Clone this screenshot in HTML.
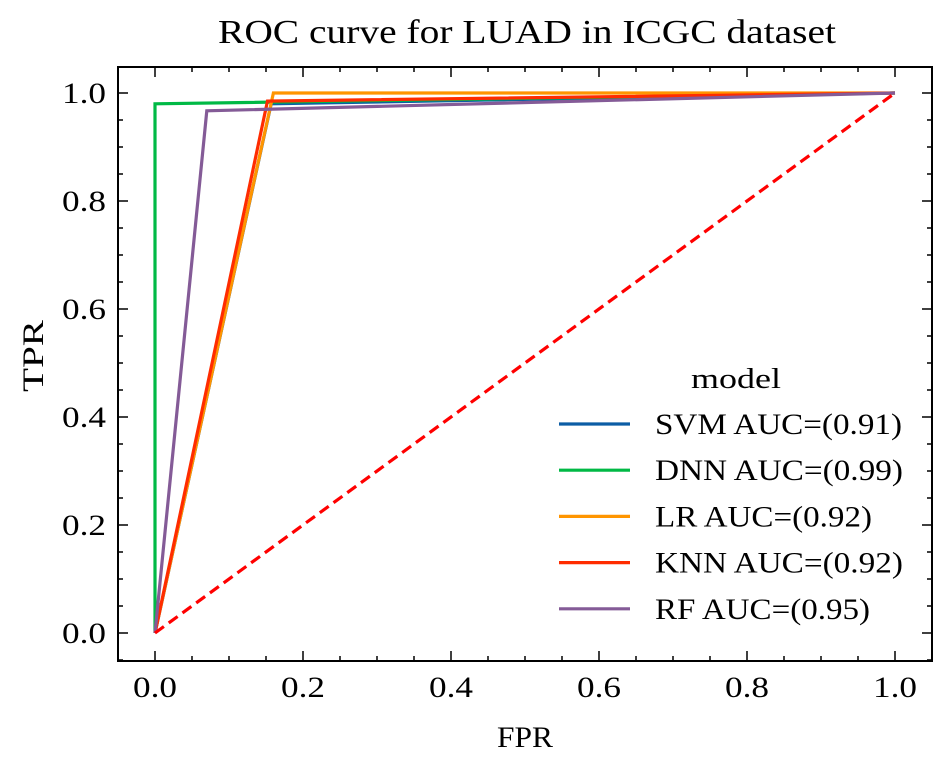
<!DOCTYPE html>
<html><head><meta charset="utf-8"><style>
body{margin:0;background:#fff;}
svg text{font-family:"Liberation Serif",serif;fill:#000;}
</style></head><body>
<svg id="chart" width="947" height="767" xmlns="http://www.w3.org/2000/svg">
<text x="527" y="43" font-size="34" text-anchor="middle" textLength="618" lengthAdjust="spacingAndGlyphs">ROC curve for LUAD in ICGC dataset</text>
<text x="525" y="747" font-size="30" text-anchor="middle" textLength="56" lengthAdjust="spacingAndGlyphs">FPR</text>
<text x="43" y="356" font-size="30" text-anchor="middle" textLength="72" lengthAdjust="spacingAndGlyphs" transform="rotate(-90 43 356)">TPR</text>
<g id="ticks"></g>
<g id="series"></g>
<rect x="118" y="67" width="814" height="594" fill="none" stroke="#000" stroke-width="2"/>
<g id="legend">
<text x="736" y="388" font-size="29" text-anchor="middle" textLength="90" lengthAdjust="spacingAndGlyphs">model</text>
</g>
</svg>
<script>
const models = ["SVM AUC=(0.91)","DNN AUC=(0.99)","LR AUC=(0.92)","KNN AUC=(0.92)","RF AUC=(0.95)"];
const colors = ["#0C5DA5","#00B945","#FF9500","#FF2C00","#845B97"];
const fprSVM = [0,0.157,1], tprSVM = [0,0.98,1];
const fprDNN = [0,0,1], tprDNN = [0,0.98,1];
const fprLR = [0,0.16,1], tprLR = [0,1.0,1];
const fprKNN = [0,0.152,1], tprKNN = [0,0.985,1];
const fprRF = [0,0.07,1], tprRF = [0,0.967,1];
const majorTicks = [0,0.2,0.4,0.6,0.8,1.0];
const tickLabels = ["0.0","0.2","0.4","0.6","0.8","1.0"];
const legendWidths = [247,248,217,248,215];

const NS="http://www.w3.org/2000/svg";
const X=v=>155+v*740, Y=v=>633-v*540;
function mk(t,a,p){const e=document.createElementNS(NS,t);for(const k in a)e.setAttribute(k,a[k]);p.appendChild(e);return e;}
const tg=document.getElementById('ticks');
for(let k=-1;k<=21;k++){
  const v=k*0.05; const maj=k%4===0&&k>=0&&k<=20;
  const len=maj?10:5;
  const xv=X(v); if(xv>118&&xv<932){
    let l=mk('line',{x1:xv,x2:xv,y1:661,y2:661-len,stroke:'#000','stroke-width':1.5},tg);
    
    l=mk('line',{x1:xv,x2:xv,y1:67,y2:67+len,stroke:'#000','stroke-width':1.5},tg);
    
  }
  const yv=Y(v); if(yv>67&&yv<661){
    let l=mk('line',{x1:118,x2:118+len,y1:yv,y2:yv,stroke:'#000','stroke-width':1.5},tg);
    
    l=mk('line',{x1:932,x2:932-len,y1:yv,y2:yv,stroke:'#000','stroke-width':1.5},tg);
    
  }
}
majorTicks.forEach((v,i)=>{
  let t=mk('text',{x:X(v),y:697,'font-size':30,'text-anchor':'middle',textLength:44,lengthAdjust:'spacingAndGlyphs'},tg);t.textContent=tickLabels[i];
  
  t=mk('text',{x:106,y:Y(v)+10,'font-size':30,'text-anchor':'end',textLength:44,lengthAdjust:'spacingAndGlyphs'},tg);t.textContent=tickLabels[i];
  
});
const sg=document.getElementById('series');
const data=[[fprSVM,tprSVM],[fprDNN,tprDNN],[fprLR,tprLR],[fprKNN,tprKNN],[fprRF,tprRF]];
const names=['svm-curve','dnn-curve','lr-curve','knn-curve','rf-curve'];
data.forEach((d,i)=>{
  const pts=d[0].map((f,j)=>X(f)+','+Y(d[1][j])).join(' ');
  const p=mk('polyline',{points:pts,fill:'none',stroke:colors[i],'stroke-width':3.2},sg);
  
  
});
const diag=mk('line',{x1:X(0),y1:Y(0),x2:X(1),y2:Y(1),stroke:'#FF0000','stroke-width':3.2,'stroke-dasharray':'11,6'},sg);


const lg=document.getElementById('legend');
models.forEach((m,i)=>{
  const y=424+i*46.2;
  const l=mk('line',{x1:559,x2:630,y1:y,y2:y,stroke:colors[i],'stroke-width':3.2},lg);
  
  
  const t=mk('text',{x:655,y:y+10,'font-size':30,textLength:legendWidths[i],lengthAdjust:'spacingAndGlyphs'},lg);t.textContent=m;
  
  
});
</script>
</body></html>
